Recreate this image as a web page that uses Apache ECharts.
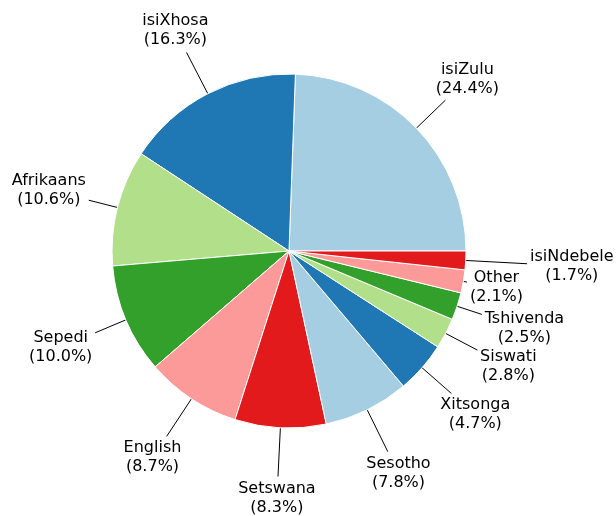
<!DOCTYPE html>
<html>
<head>
<meta charset="utf-8">
<script src="https://cdn.jsdelivr.net/npm/echarts@6/dist/echarts.min.js"></script>
<style>
  html, body { margin: 0; padding: 0; background: #fff; }
  #chart { width: 616px; height: 516px; }
</style>
</head>
<body>
<div id="chart"></div>
<script>
  /** Data */
  var languages = ['isiZulu', 'isiXhosa', 'Afrikaans', 'Sepedi', 'English', 'Setswana',
    'Sesotho', 'Xitsonga', 'Siswati', 'Tshivenda', 'Other', 'isiNdebele'];
  var shares = [24.4, 16.3, 10.6, 10.0, 8.7, 8.3, 7.8, 4.7, 2.8, 2.5, 2.1, 1.7];

  // label distance from centre, as a multiple of the radius
  var labelDistance = [1.4, 1.4, 1.4, 1.4, 1.4, 1.4, 1.4, 1.4, 1.4, 1.4, 1.19, 1.6];
  var palette = ['#a6cee3', '#1f78b4', '#b2df8a', '#33a02c', '#fb9a99', '#e31a1c'];

  var cx = 289, cy = 251, R = 177;

  var total = shares.reduce(function(a, b) { return a + b; }, 0);
  var midAngle = [];
  var acc = 0;
  shares.forEach(function(v) {
    midAngle.push((acc + v / 2) / total * Math.PI * 2);
    acc += v;
  });

  var option = {
    animation: false,
    color: palette,
    series: [{
      type: 'pie',
      center: [cx, cy],
      radius: R,
      startAngle: 0,
      clockwise: false,
      avoidLabelOverlap: false,
      itemStyle: {
        borderColor: '#fff',
        borderWidth: 1
      },
      label: {
        show: true,
        position: 'outside',
        color: '#000',
        fontFamily: 'DejaVu Sans',
        fontSize: 16,
        lineHeight: 19,
        align: 'center',
        formatter: function(p) {
          return p.name + '\n(' + p.value.toFixed(1) + '%)';
        }
      },
      labelLine: {
        show: true,
        length: 10,
        length2: 0,
        lineStyle: { color: '#000', width: 1 }
      },
      labelLayout: function(params) {
        var i = params.dataIndex;
        var dx = Math.cos(midAngle[i]);
        var dy = -Math.sin(midAngle[i]);
        var k = labelDistance[i] * R;
        var lx = cx + dx * k;
        var ly = cy + dy * k;
        var w = params.labelRect.width / 2;
        var h = params.labelRect.height / 2;
        var t = Math.min(Math.abs(dx) > 1e-6 ? w / Math.abs(dx) : 1e9,
                         Math.abs(dy) > 1e-6 ? h / Math.abs(dy) : 1e9);
        var ex = lx - dx * (t + 3);
        var ey = ly - dy * (t + 3);
        var sx = cx + dx * R;
        var sy = cy + dy * R;
        return {
          x: lx,
          y: ly,
          align: 'center',
          verticalAlign: 'middle',
          labelLinePoints: [[sx, sy], [ex, ey], [ex, ey]]
        };
      },
      data: languages.map(function(name, i) {
        return { name: name, value: shares[i] };
      })
    }]
  };

  echarts.init(document.getElementById('chart')).setOption(option);
</script>
</body>
</html>
